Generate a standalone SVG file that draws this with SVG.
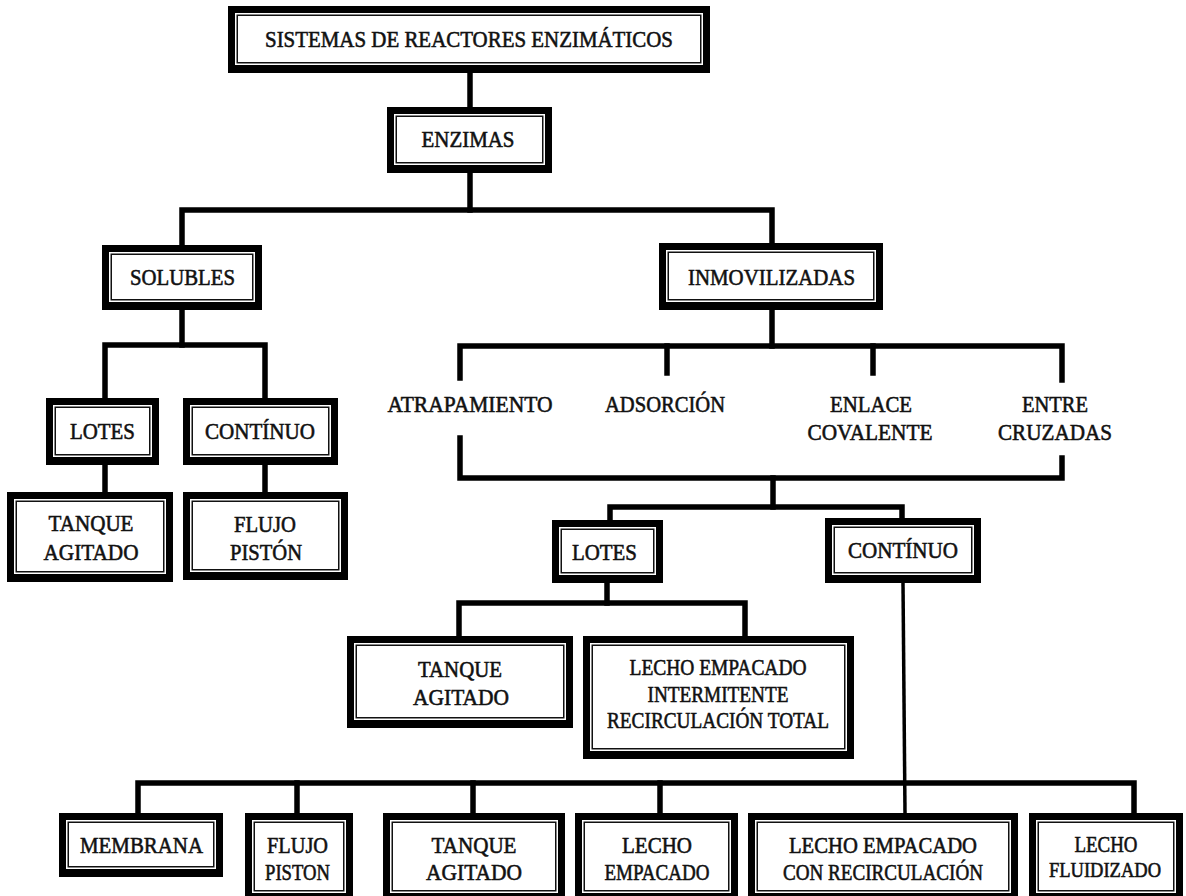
<svg xmlns="http://www.w3.org/2000/svg" width="1186" height="896" viewBox="0 0 1186 896">
<style>
.o{fill:#000}
.w{fill:#fff}
.l{fill:none;stroke:#111;stroke-width:1.5}
text{font-family:"Liberation Serif","Times New Roman",serif;font-size:24px;font-weight:normal;fill:#111;stroke:#111;stroke-width:0.6;text-anchor:middle}
.s{font-size:22px}
.c{fill:none;stroke:#000;stroke-width:5.5;stroke-linejoin:miter;stroke-linecap:square}
.t{fill:none;stroke:#000;stroke-width:3.5}
</style>
<rect width="1186" height="896" fill="#fff"/>
<g id="connectors">
<path class="c" d="M470,73V107"/>
<path class="c" d="M470,173V210"/>
<path class="c" d="M182,245V210H772V243"/>
<path class="c" d="M182,310V345"/>
<path class="c" d="M105,398V345H265V398"/>
<path class="c" d="M105,465V492"/>
<path class="c" d="M265,465V492"/>
<path class="c" d="M772,310V346"/>
<path class="c" d="M460,378V346H1062V380"/>
<path class="c" d="M667,346V373"/>
<path class="c" d="M873,346V373"/>
<path class="c" d="M460,438V478H1062V458"/>
<path class="c" d="M773,478V507"/>
<path class="c" d="M610,520V507H902V518"/>
<path class="c" d="M607,583V603"/>
<path class="c" d="M459,636V603H745V636"/>
<path class="t" d="M903,583L905,813"/>
<path class="c" d="M138,813V783H1134V813"/>
<path class="c" d="M297,783V813"/>
<path class="c" d="M473,783V813"/>
<path class="c" d="M660,783V813"/>
</g>
<g id="n-title">
<rect class="o" x="228" y="6" width="482" height="67"/><rect class="w" x="235" y="13" width="468" height="52"/><rect class="l" x="237.25" y="15.25" width="463.5" height="47.5"/>
<text x="469" y="47" textLength="408" lengthAdjust="spacingAndGlyphs">SISTEMAS DE REACTORES ENZIMÁTICOS</text>
</g>
<g id="n-enzimas">
<rect class="o" x="387" y="107" width="165" height="66"/><rect class="w" x="394" y="114" width="151" height="51"/><rect class="l" x="396.25" y="116.25" width="146.5" height="46.5"/>
<text x="468" y="147" textLength="93" lengthAdjust="spacingAndGlyphs">ENZIMAS</text>
</g>
<g id="n-solubles">
<rect class="o" x="102" y="245" width="160" height="65"/><rect class="w" x="109" y="252" width="146" height="50"/><rect class="l" x="111.25" y="254.25" width="141.5" height="45.5"/>
<text x="182.5" y="285" textLength="105" lengthAdjust="spacingAndGlyphs">SOLUBLES</text>
</g>
<g id="n-inmovilizadas">
<rect class="o" x="659" y="243" width="224" height="67"/><rect class="w" x="666" y="250" width="210" height="52"/><rect class="l" x="668.25" y="252.25" width="205.5" height="47.5"/>
<text x="771.5" y="285" textLength="167" lengthAdjust="spacingAndGlyphs">INMOVILIZADAS</text>
</g>
<g id="n-lotes-sol">
<rect class="o" x="46" y="398" width="113" height="67"/><rect class="w" x="53" y="405" width="99" height="52"/><rect class="l" x="55.25" y="407.25" width="94.5" height="47.5"/>
<text x="102.5" y="439" textLength="65" lengthAdjust="spacingAndGlyphs">LOTES</text>
</g>
<g id="n-continuo-sol">
<rect class="o" x="183" y="398" width="155" height="67"/><rect class="w" x="190" y="405" width="141" height="52"/><rect class="l" x="192.25" y="407.25" width="136.5" height="47.5"/>
<text x="260" y="439" textLength="110" lengthAdjust="spacingAndGlyphs">CONTÍNUO</text>
</g>
<g id="n-tanque-sol">
<rect class="o" x="7" y="492" width="166" height="90"/><rect class="w" x="14" y="499" width="152" height="75"/><rect class="l" x="16.25" y="501.25" width="147.5" height="70.5"/>
<text x="91" y="531" textLength="85" lengthAdjust="spacingAndGlyphs">TANQUE</text>
<text x="91" y="560" textLength="95" lengthAdjust="spacingAndGlyphs">AGITADO</text>
</g>
<g id="n-flujo-sol">
<rect class="o" x="183" y="492" width="165" height="88"/><rect class="w" x="190" y="499" width="151" height="73"/><rect class="l" x="192.25" y="501.25" width="146.5" height="68.5"/>
<text x="265" y="532" textLength="62" lengthAdjust="spacingAndGlyphs">FLUJO</text>
<text x="266" y="560" textLength="72" lengthAdjust="spacingAndGlyphs">PISTÓN</text>
</g>
<g id="n-atrapamiento"><text x="470" y="412" textLength="165" lengthAdjust="spacingAndGlyphs">ATRAPAMIENTO</text></g>
<g id="n-adsorcion"><text x="665" y="412" textLength="120" lengthAdjust="spacingAndGlyphs">ADSORCIÓN</text></g>
<g id="n-enlace">
<text x="871" y="412" textLength="82" lengthAdjust="spacingAndGlyphs">ENLACE</text>
<text x="870" y="440" textLength="125" lengthAdjust="spacingAndGlyphs">COVALENTE</text>
</g>
<g id="n-entre">
<text x="1055" y="412" textLength="66" lengthAdjust="spacingAndGlyphs">ENTRE</text>
<text x="1055" y="440" textLength="114" lengthAdjust="spacingAndGlyphs">CRUZADAS</text>
</g>
<g id="n-lotes-inm">
<rect class="o" x="552" y="520" width="111" height="63"/><rect class="w" x="559" y="527" width="97" height="48"/><rect class="l" x="561.25" y="529.25" width="92.5" height="43.5"/>
<text x="604.5" y="560" textLength="65" lengthAdjust="spacingAndGlyphs">LOTES</text>
</g>
<g id="n-continuo-inm">
<rect class="o" x="825" y="518" width="156" height="65"/><rect class="w" x="832" y="525" width="142" height="50"/><rect class="l" x="834.25" y="527.25" width="137.5" height="45.5"/>
<text x="903" y="558" textLength="110" lengthAdjust="spacingAndGlyphs">CONTÍNUO</text>
</g>
<g id="n-tanque-inm">
<rect class="o" x="347" y="636" width="226" height="92"/><rect class="w" x="354" y="643" width="212" height="77"/><rect class="l" x="356.25" y="645.25" width="207.5" height="72.5"/>
<text x="460" y="677" textLength="84" lengthAdjust="spacingAndGlyphs">TANQUE</text>
<text x="461" y="705" textLength="96" lengthAdjust="spacingAndGlyphs">AGITADO</text>
</g>
<g id="n-lecho-intermitente">
<rect class="o" x="583" y="636" width="271" height="123"/><rect class="w" x="590" y="643" width="257" height="108"/><rect class="l" x="592.25" y="645.25" width="252.5" height="103.5"/>
<text x="718" y="675" textLength="177" lengthAdjust="spacingAndGlyphs">LECHO EMPACADO</text>
<text x="718" y="702" textLength="141" lengthAdjust="spacingAndGlyphs">INTERMITENTE</text>
<text x="718" y="728" textLength="222" lengthAdjust="spacingAndGlyphs">RECIRCULACIÓN TOTAL</text>
</g>
<g id="n-membrana">
<rect class="o" x="59" y="813" width="164" height="64"/><rect class="w" x="66" y="820" width="150" height="49"/><rect class="l" x="68.25" y="822.25" width="145.5" height="44.5"/>
<text x="141.5" y="853" textLength="123" lengthAdjust="spacingAndGlyphs">MEMBRANA</text>
</g>
<g id="n-flujo-piston">
<rect class="o" x="245" y="813" width="108" height="88"/><rect class="w" x="252" y="820" width="94" height="73"/><rect class="l" x="254.25" y="822.25" width="89.5" height="68.5"/>
<text x="297.5" y="853" textLength="61" lengthAdjust="spacingAndGlyphs">FLUJO</text>
<text x="297.5" y="880" textLength="65" lengthAdjust="spacingAndGlyphs">PISTON</text>
</g>
<g id="n-tanque-bottom">
<rect class="o" x="383" y="813" width="182" height="88"/><rect class="w" x="390" y="820" width="168" height="73"/><rect class="l" x="392.25" y="822.25" width="163.5" height="68.5"/>
<text x="474" y="853" textLength="85" lengthAdjust="spacingAndGlyphs">TANQUE</text>
<text x="474" y="880" textLength="96" lengthAdjust="spacingAndGlyphs">AGITADO</text>
</g>
<g id="n-lecho-empacado">
<rect class="o" x="575" y="813" width="163" height="88"/><rect class="w" x="582" y="820" width="149" height="73"/><rect class="l" x="584.25" y="822.25" width="144.5" height="68.5"/>
<text x="657" y="853" textLength="70" lengthAdjust="spacingAndGlyphs">LECHO</text>
<text x="657" y="880" textLength="105" lengthAdjust="spacingAndGlyphs">EMPACADO</text>
</g>
<g id="n-lecho-recirculacion">
<rect class="o" x="748" y="813" width="270" height="88"/><rect class="w" x="755" y="820" width="256" height="73"/><rect class="l" x="757.25" y="822.25" width="251.5" height="68.5"/>
<text x="883" y="853" textLength="188" lengthAdjust="spacingAndGlyphs">LECHO EMPACADO</text>
<text x="883" y="880" textLength="200" lengthAdjust="spacingAndGlyphs">CON RECIRCULACIÓN</text>
</g>
<g id="n-lecho-fluidizado">
<rect class="o" x="1029" y="813" width="154" height="88"/><rect class="w" x="1036" y="820" width="140" height="73"/><rect class="l" x="1038.25" y="822.25" width="135.5" height="68.5"/>
<text x="1106" y="852" textLength="63" lengthAdjust="spacingAndGlyphs">LECHO</text>
<text class="s" x="1105" y="877" textLength="112" lengthAdjust="spacingAndGlyphs">FLUIDIZADO</text>
</g>
</svg>
